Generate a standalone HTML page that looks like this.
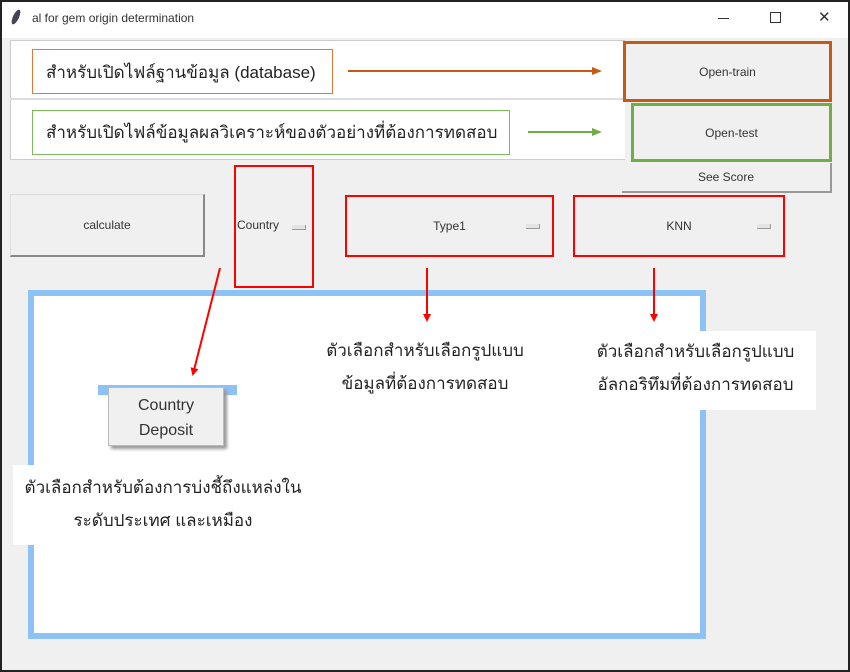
<!DOCTYPE html>
<html><head><meta charset="utf-8"><style>
*{margin:0;padding:0;box-sizing:border-box}
body{width:850px;height:672px;overflow:hidden;background:#fff;font-family:"Liberation Sans","Noto Sans CJK SC",sans-serif}
.a{position:absolute}
.th{font-family:"Liberation Sans","Noto Sans CJK SC",sans-serif;color:#222;font-size:17px;white-space:nowrap}
.btn{position:absolute;background:#f0f0f0;font-size:12px;color:#333;display:flex;align-items:center;justify-content:center}
.dd{position:absolute;width:14px;height:5px;border:1px solid #999;border-top:none;border-left:none;background:#e4e4e4}
</style></head><body>
<div class="a" style="left:0;top:0;width:850px;height:672px;border:2px solid #222;background:#f0f0f0"></div>
<div class="a" style="left:2px;top:2px;width:846px;height:36px;background:#fff"></div>
<div class="a" style="left:13px;top:9px;width:6px;height:16px;background:#445;border-radius:50%;transform:rotate(25deg)"></div>
<div class="a" style="left:32px;top:11px;font-size:12px;color:#333">al for gem origin determination</div>
<div class="a" style="left:718px;top:18px;width:11px;height:1px;background:#333"></div>
<div class="a" style="left:770px;top:12px;width:11px;height:11px;border:1px solid #333"></div>
<div class="a" style="left:818px;top:8px;font-size:15px;color:#333">✕</div>

<div class="a" style="left:10px;top:40px;width:615px;height:120px;background:#fff;border:1px solid #ccc;border-right:none"></div>
<div class="a" style="left:10px;top:98px;width:615px;height:2px;background:#ddd"></div>
<div class="a" style="left:10px;top:160px;width:612px;height:3px;background:#f0f0f0"></div>

<div class="a th" style="left:32px;top:49px;width:301px;height:45px;border:1px solid #e07b39;padding:9px 0 0 13px">สำหรับเปิดไฟล์ฐานข้อมูล (database)</div>
<div class="a th" style="left:32px;top:110px;width:478px;height:45px;border:1px solid #7cba5a;padding:8px 0 0 13px">สำหรับเปิดไฟล์ข้อมูลผลวิเคราะห์ของตัวอย่างที่ต้องการทดสอบ</div>

<div class="btn" style="left:623px;top:41px;width:209px;height:61px;border:3px solid #c55a11">Open-train</div>
<div class="btn" style="left:631px;top:103px;width:201px;height:59px;border:3px solid #70ad47">Open-test</div>
<div class="btn" style="left:622px;top:163px;width:210px;height:30px;border-right:2px solid #999;border-bottom:2px solid #999">See Score</div>

<div class="btn" style="left:10px;top:194px;width:195px;height:63px;border:1px solid #ddd;border-right:2px solid #888;border-bottom:2px solid #888">calculate</div>

<div class="btn" style="left:234px;top:165px;width:80px;height:123px;border:2px solid #f00;justify-content:flex-start;padding-left:1px;padding-bottom:4px">Country<span class="dd" style="left:56px;top:58px"></span></div>
<div class="btn" style="left:345px;top:195px;width:209px;height:62px;border:2px solid #f00">Type1<span class="dd" style="right:12px;top:27px"></span></div>
<div class="btn" style="left:573px;top:195px;width:212px;height:62px;border:2px solid #f00">KNN<span class="dd" style="right:12px;top:27px"></span></div>

<div class="a" style="left:28px;top:290px;width:678px;height:349px;background:#fff;border:6px solid #8dc2f4"></div>

<div class="a" style="left:98px;top:385px;width:139px;height:10px;background:#8dc2f4"></div>
<div class="a" style="left:108px;top:387px;width:116px;height:59px;background:#f0f0f0;border:1px solid #bbb;box-shadow:3px 3px 3px #999;text-align:center;font-size:16px;color:#333;line-height:25px;padding-top:5px">Country<br>Deposit</div>

<div class="a th" style="left:13px;top:465px;width:300px;height:80px;background:#fff;text-align:center;line-height:33px;padding-top:6px">ตัวเลือกสำหรับต้องการบ่งชี้ถึงแหล่งใน<br>ระดับประเทศ และเหมือง</div>
<div class="a th" style="left:300px;top:334px;width:250px;text-align:center;line-height:33px">ตัวเลือกสำหรับเลือกรูปแบบ<br>ข้อมูลที่ต้องการทดสอบ</div>
<div class="a th" style="left:575px;top:331px;width:241px;height:79px;background:#fff;text-align:center;line-height:33px;padding-top:4px">ตัวเลือกสำหรับเลือกรูปแบบ<br>อัลกอริทึมที่ต้องการทดสอบ</div>

<svg class="a" style="left:0;top:0" width="850" height="672">
<defs>
<marker id="r" markerWidth="8" markerHeight="8" refX="6" refY="4" orient="auto" markerUnits="userSpaceOnUse"><path d="M0,0L8,4L0,8z" fill="#f00"/></marker>
<marker id="o" markerWidth="10" markerHeight="8" refX="8" refY="4" orient="auto" markerUnits="userSpaceOnUse"><path d="M0,0L10,4L0,8z" fill="#c55a11"/></marker>
<marker id="g" markerWidth="10" markerHeight="8" refX="8" refY="4" orient="auto" markerUnits="userSpaceOnUse"><path d="M0,0L10,4L0,8z" fill="#70ad47"/></marker>
</defs>
<line x1="348" y1="71" x2="600" y2="71" stroke="#c55a11" stroke-width="2" marker-end="url(#o)"/>
<line x1="528" y1="132" x2="600" y2="132" stroke="#70ad47" stroke-width="2" marker-end="url(#g)"/>
<line x1="220" y1="268" x2="193" y2="374" stroke="#f00" stroke-width="2" marker-end="url(#r)"/>
<line x1="427" y1="268" x2="427" y2="320" stroke="#f00" stroke-width="2" marker-end="url(#r)"/>
<line x1="654" y1="268" x2="654" y2="320" stroke="#f00" stroke-width="2" marker-end="url(#r)"/>
</svg>
</body></html>
